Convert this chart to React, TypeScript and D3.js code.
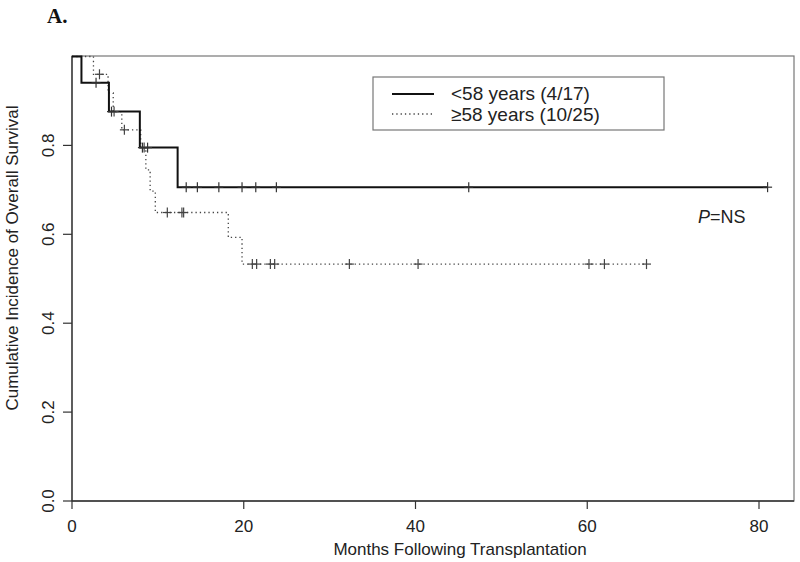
import React from "react";
import * as d3 from "d3";

// <58 years (4/17)
const youngStepTimes = [0, 1.1, 4.3, 7.9, 12.3];
const youngStepSurv = [1.0, 0.941, 0.876, 0.795, 0.706];
const youngEnd = 81.0;
const youngCensor = [2.8, 4.6, 8.2, 8.8, 13.3, 14.6, 17.1, 19.8, 21.4, 23.8, 46.2, 81.0];

// >=58 years (10/25)
const oldStepTimes = [0, 2.5, 4.2, 4.8, 5.8, 8.0, 8.6, 9.1, 9.7, 18.2, 19.8];
const oldStepSurv = [1.0, 0.96, 0.918, 0.876, 0.835, 0.795, 0.745, 0.697, 0.649, 0.593, 0.533];
const oldEnd = 66.9;
const oldCensor = [3.2, 4.9, 6.1, 8.4, 11.1, 12.8, 13.0, 21.0, 21.5, 23.1, 23.6, 32.3, 40.3, 60.2, 62.0, 66.9];

const xTicks = [0, 20, 40, 60, 80];
const yTicks = [0.0, 0.2, 0.4, 0.6, 0.8];
const legendLabels = ["<58 years (4/17)", "\u226558 years (10/25)"];

const W = 800;
const H = 562;

function survAt(times: number[], surv: number[], t: number) {
  let s = surv[0];
  for (let i = 0; i < times.length; i++) if (times[i] <= t) s = surv[i];
  return s;
}

export default function App() {
  const x = d3.scaleLinear().domain([0, 80]).range([72, 759]);
  const y = d3.scaleLinear().domain([0, 1]).range([501, 56.5]);
  const plotRight = 794;
  const font = "'Liberation Sans', Arial, sans-serif";

  const line = d3
    .line<[number, number]>()
    .x((d) => x(d[0]))
    .y((d) => y(d[1]))
    .curve(d3.curveStepAfter);

  const mk = (times: number[], surv: number[], end: number): [number, number][] => {
    const pts: [number, number][] = times.map((t, i) => [t, surv[i]]);
    pts.push([end, surv[surv.length - 1]]);
    return pts;
  };

  const youngPath = line(mk(youngStepTimes, youngStepSurv, youngEnd)) || "";
  const oldPath = line(mk(oldStepTimes, oldStepSurv, oldEnd)) || "";

  const censorMarks = (times: number[], stimes: number[], surv: number[], color: string, key: string) =>
    times.map((t, i) => {
      const cx = x(t);
      const cy = y(survAt(stimes, surv, t));
      return (
        <g key={key + i} stroke={color} strokeWidth={1.2}>
          <line x1={cx - 4.5} x2={cx + 4.5} y1={cy} y2={cy} />
          <line x1={cx} x2={cx} y1={cy - 5} y2={cy + 5} />
        </g>
      );
    });

  return (
    <svg width={W} height={H} style={{ position: "absolute", left: 0, top: 0, background: "#fff" }}>
      <rect x={0} y={0} width={W} height={H} fill="#fff" />
      <text x={47} y={23} fontFamily="'Liberation Serif', 'Times New Roman', serif" fontWeight="bold" fontSize={21} fill="#111">
        A.
      </text>

      {/* box */}
      <rect x={72} y={56} width={plotRight - 72} height={501 - 56} fill="none" stroke="#777" strokeWidth={1.2} />
      {/* axes */}
      <line x1={72} x2={72} y1={56} y2={501} stroke="#333" strokeWidth={1.3} />
      <line x1={72} x2={plotRight} y1={501} y2={501} stroke="#333" strokeWidth={1.3} />

      {xTicks.map((t) => (
        <g key={"xt" + t}>
          <line x1={x(t)} x2={x(t)} y1={501} y2={509} stroke="#333" strokeWidth={1.2} />
          <text x={x(t)} y={532} textAnchor="middle" fontFamily={font} fontSize={17} fill="#222">
            {t}
          </text>
        </g>
      ))}
      {yTicks.map((t) => (
        <g key={"yt" + t}>
          <line x1={63} x2={72} y1={y(t)} y2={y(t)} stroke="#333" strokeWidth={1.2} />
          <text
            transform={`translate(54,${y(t)}) rotate(-90)`}
            textAnchor="middle"
            fontFamily={font}
            fontSize={17}
            fill="#222"
          >
            {t.toFixed(1)}
          </text>
        </g>
      ))}

      <text x={460} y={555} textAnchor="middle" fontFamily={font} fontSize={17} fill="#222">
        Months Following Transplantation
      </text>
      <text
        transform={`translate(18,258) rotate(-90)`}
        textAnchor="middle"
        fontFamily={font}
        fontSize={17}
        fill="#222"
      >
        Cumulative Incidence of Overall Survival
      </text>

      {/* curves */}
      <path d={oldPath} fill="none" stroke="#444" strokeWidth={1.3} strokeDasharray="1.3,3" />
      <path d={youngPath} fill="none" stroke="#111" strokeWidth={2} />
      {censorMarks(oldCensor, oldStepTimes, oldStepSurv, "#444", "oc")}
      {censorMarks(youngCensor, youngStepTimes, youngStepSurv, "#333", "yc")}

      {/* legend */}
      <rect x={373} y={77} width={291} height={53} fill="#fff" stroke="#777" strokeWidth={1.2} />
      <line x1={392} x2={434} y1={94} y2={94} stroke="#111" strokeWidth={2} />
      <line x1={392} x2={434} y1={114} y2={114} stroke="#444" strokeWidth={1.3} strokeDasharray="1.3,3" />
      <text x={451} y={100} fontFamily={font} fontSize={19} fill="#222">
        {legendLabels[0]}
      </text>
      <text x={451} y={121} fontFamily={font} fontSize={19} fill="#222">
        {legendLabels[1]}
      </text>

      <text x={698} y={223} fontFamily={font} fontSize={18} fill="#222">
        <tspan fontStyle="italic">P</tspan>=NS
      </text>
    </svg>
  );
}
